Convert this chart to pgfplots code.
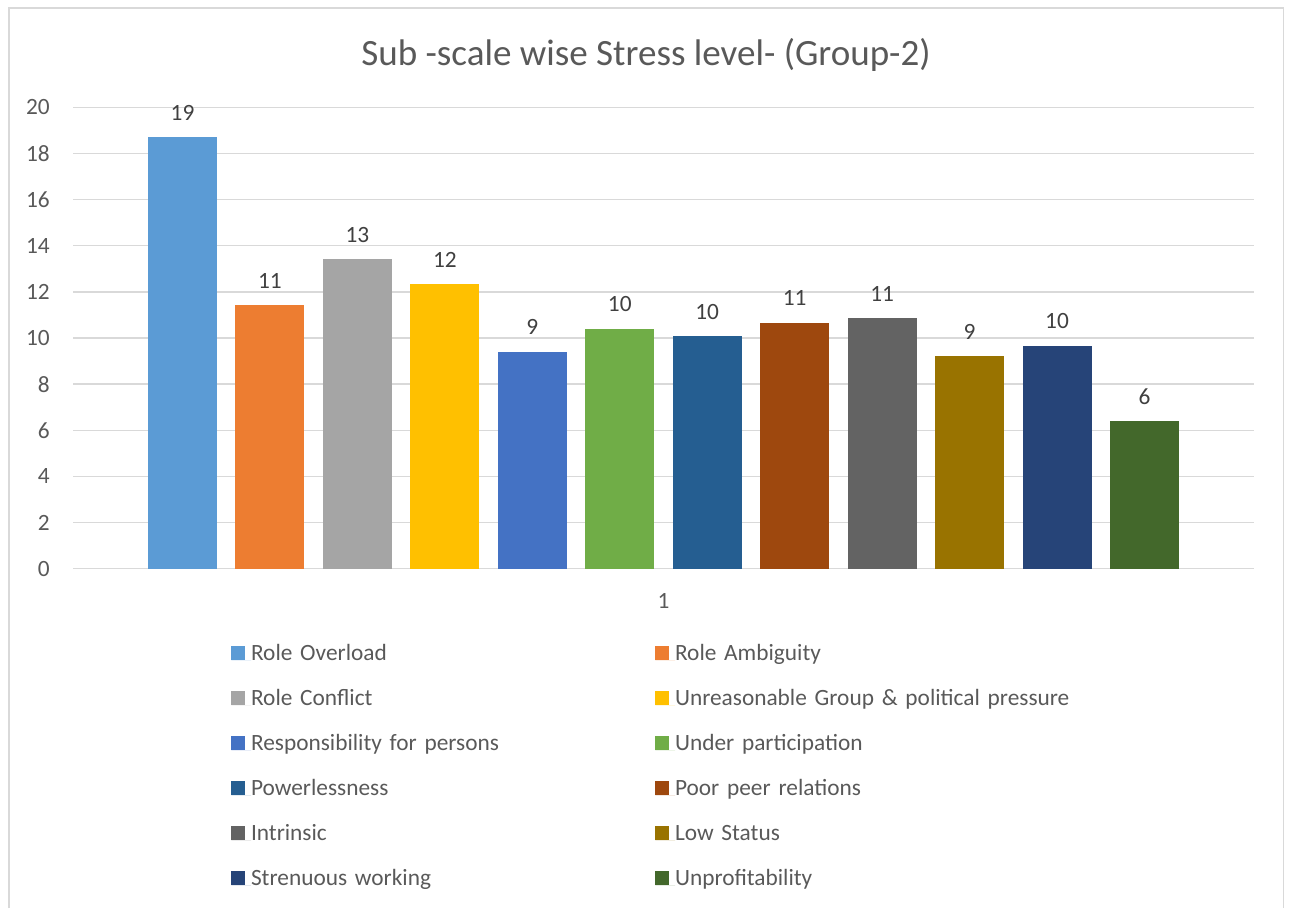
\documentclass[border=0pt]{standalone}
\usepackage{fontspec}
\setmainfont{Carlito}
\usepackage{pgfplots}
\pgfplotsset{compat=1.18}

\definecolor{textgray}{RGB}{89,89,89}
\definecolor{labelgray}{RGB}{64,64,64}
\definecolor{gridgray}{RGB}{217,217,217}
\definecolor{c1}{RGB}{91,155,213}
\definecolor{c2}{RGB}{237,125,49}
\definecolor{c3}{RGB}{165,165,165}
\definecolor{c4}{RGB}{255,192,0}
\definecolor{c5}{RGB}{68,114,196}
\definecolor{c6}{RGB}{112,173,71}
\definecolor{c7}{RGB}{37,94,145}
\definecolor{c8}{RGB}{158,72,14}
\definecolor{c9}{RGB}{99,99,99}
\definecolor{c10}{RGB}{153,115,0}
\definecolor{c11}{RGB}{38,68,120}
\definecolor{c12}{RGB}{67,104,43}

\newcommand{\lblfont}{\fontsize{17.5pt}{21pt}\selectfont}
\newcommand{\titlefont}{\fontsize{27.8pt}{33pt}\selectfont}

\begin{document}
\begin{tikzpicture}
% page frame
\path[use as bounding box] (0pt,0pt) rectangle (967.5pt,-681pt);
\draw[gridgray, line width=1pt] (6.75pt,-681pt) -- (6.75pt,-6pt) -- (962.6pt,-6pt) -- (962.6pt,-681pt);
% title
\node[anchor=base, inner sep=0pt, text=textgray, font=\titlefont] at (484.5pt,-48.75pt)
  {Sub -scale wise Stress level- (Group-2)};

\begin{axis}[
  at={(54.75pt,-426.5pt)}, anchor=south west,
  scale only axis, width=885.75pt, height=346.05pt,
  ybar=13.84pt, bar width=51.75pt,
  ymin=0, ymax=20, ytick={0,2,...,20},
  xmin=0.5, xmax=1.5, xtick={1},
  axis line style={draw=none}, tick style={draw=none},
  major tick length=0pt,
  ymajorgrids, grid style={color=gridgray, line width=1.1pt},
  /pgf/number format/.cd, fixed, precision=0, assume math mode=true, /pgfplots/.cd,
  ticklabel style={font=\lblfont, text=textgray},
  yticklabel style={anchor=east, inner sep=0pt, xshift=-17.25pt},
  xticklabel style={anchor=north, inner sep=0pt, yshift=-18.6pt},
  nodes near coords,
  nodes near coords style={font=\lblfont, text=labelgray, anchor=base, inner sep=0pt, yshift=12.75pt},
  legend image code/.code={\fill[#1] (0pt,0pt) rectangle (10.5pt,10.5pt); \path (0pt,0pt) -- (14.8pt,0pt);},
  legend columns=2,
  legend cell align=left,
  legend style={at={(0.1338,-0.1632)}, anchor=north west, draw=none, fill=none,
    inner sep=0pt, column sep=0pt, row sep=17.75pt, font=\lblfont, text=textgray,
    nodes={inner sep=0pt, text width=303.2pt, text height=12pt, text depth=4pt, anchor=base west}},
]
\addplot[fill=c1, draw=none] coordinates {(1,18.70)};
\addplot[fill=c2, draw=none] coordinates {(1,11.41)};
\addplot[fill=c3, draw=none] coordinates {(1,13.41)};
\addplot[fill=c4, draw=none] coordinates {(1,12.32)};
\addplot[fill=c5, draw=none] coordinates {(1,9.41)};
\addplot[fill=c6, draw=none] coordinates {(1,10.41)};
\addplot[fill=c7, draw=none] coordinates {(1,10.07)};
\addplot[fill=c8, draw=none] coordinates {(1,10.67)};
\addplot[fill=c9, draw=none] coordinates {(1,10.85)};
\addplot[fill=c10, draw=none] coordinates {(1,9.20)};
\addplot[fill=c11, draw=none] coordinates {(1,9.67)};
\addplot[fill=c12, draw=none] coordinates {(1,6.38)};
\legend{Role Overload, Role Ambiguity, Role Conflict, Unreasonable Group \& political pressure,
  Responsibility for persons, Under participation, Powerlessness, Poor peer relations,
  Intrinsic, Low Status, Strenuous working, Unprofitability}
\end{axis}
\end{tikzpicture}
\end{document}
